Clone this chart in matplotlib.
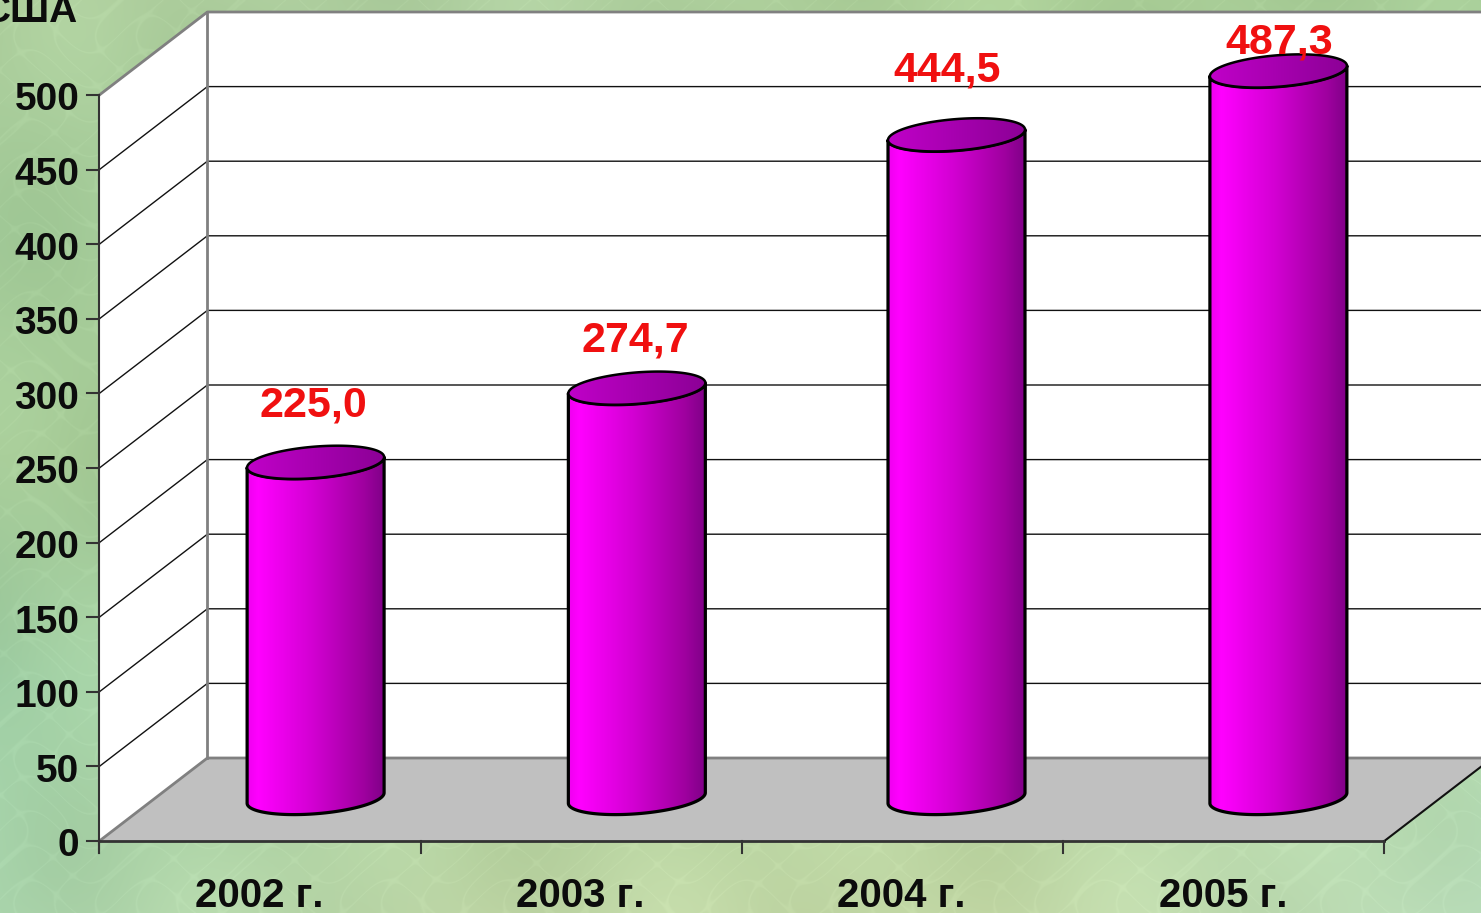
import numpy as np
import matplotlib.pyplot as plt
from matplotlib.colors import LinearSegmentedColormap
from matplotlib.patches import Polygon

plt.rcParams['font.family'] = ['Liberation Sans', 'DejaVu Sans']
plt.rcParams['text.kerning_factor'] = 6

# Data
years = ['2002 г.', '2003 г.', '2004 г.', '2005 г.']
values = [225.0, 274.7, 444.5, 487.3]
value_labels = ['225,0', '274,7', '444,5', '487,3']
y_ticks = list(range(0, 501, 50))
unit_label = 'США'

# label shift above the bar top, in value units, and sideways in categories
label_up = [41, 35, 46, 22]
label_side = [-0.008, -0.005, -0.03, 0.003]

W, H = 1481, 913
X0, XSTEP = 260, 321.25   # pixel of first category, pixels per category
Y0, YSTEP = 841, 1.492    # pixel of value 0, pixels per value unit
DX, DY = 108 / XSTEP, 83 / YSTEP   # depth of the 3d box in data units

fig = plt.figure(figsize=(W / 100, H / 100), dpi=100)
ax = fig.add_axes([0, 0, 1, 1])
ax.axis('off')
xlim = (-X0 / XSTEP, (W - X0) / XSTEP)
ylim = ((Y0 - H) / YSTEP, Y0 / YSTEP)

# Background: colour grid plus a soft crackled texture
bg_rows = np.array([
    [[172, 205, 155], [175, 207, 160], [172, 207, 152], [165, 203, 150]],
    [[165, 205, 155], [170, 207, 155], [170, 210, 155], [170, 210, 160]],
    [[165, 202, 150], [170, 205, 150], [175, 210, 155], [175, 215, 170]],
    [[160, 207, 165], [172, 208, 155], [180, 212, 160], [180, 220, 175]],
    [[170, 213, 172], [190, 214, 165], [194, 216, 165], [186, 222, 186]],
], dtype=float)
yy, xx = np.mgrid[0:H, 0:W]
gx = xx / (W - 1) * 3
gy = yy / (H - 1) * 4
ix = np.clip(gx.astype(int), 0, 2)
iy = np.clip(gy.astype(int), 0, 3)
fx = (gx - ix)[..., None]
fy = (gy - iy)[..., None]
bg = (bg_rows[iy, ix] * (1 - fx) * (1 - fy) + bg_rows[iy, ix + 1] * fx * (1 - fy)
      + bg_rows[iy + 1, ix] * (1 - fx) * fy + bg_rows[iy + 1, ix + 1] * fx * fy)
ridge = np.sin(xx / 13 + 2.1 * np.sin(yy / 23)) * np.sin(yy / 11 + 1.7 * np.sin(xx / 19))
veins = np.exp(-(ridge / 0.07) ** 2)
patches = np.sin(xx / 71 + yy / 53) + np.sin(xx / 37 - yy / 89)
bg = bg + (veins * 6 + patches * 3)[..., None]
ax.imshow(np.clip(bg, 0, 255).astype(np.uint8), extent=(*xlim, *ylim), aspect='auto',
          origin='upper', zorder=0, interpolation='bilinear')

# Walls and floor
vmax = y_ticks[-1]
left, right = -0.5, 3.5
ax.add_patch(Polygon([(left, 0), (left + DX, DY), (left + DX, vmax + DY), (left, vmax)],
                     fc='white', ec='none', zorder=1))
ax.add_patch(Polygon([(left + DX, DY), (xlim[1] + 1, DY), (xlim[1] + 1, vmax + DY), (left + DX, vmax + DY)],
                     fc='white', ec='none', zorder=1))
ax.add_patch(Polygon([(left, 0), (right, 0), (right + DX, DY), (left + DX, DY)],
                     fc='#c0c0c0', ec='none', zorder=1))

# Gridlines on the walls
for v in y_ticks[1:-1]:
    ax.plot([left, left + DX, xlim[1] + 1], [v, v + DY, v + DY], color='#111111', lw=1, zorder=2)
grey = '#808080'
ax.plot([left, left + DX, xlim[1] + 1], [vmax, vmax + DY, vmax + DY], color=grey, lw=2, zorder=2)
ax.plot([left + DX, left + DX], [DY, vmax + DY], color=grey, lw=2, zorder=2)
ax.plot([left, left + DX, xlim[1] + 1], [0, DY, DY], color=grey, lw=2, zorder=2)

# Axis lines and ticks
axc = '#333333'
ax.plot([left, left], [-8, vmax], color=axc, lw=1.5, zorder=3)
ax.plot([left, right], [0, 0], color=axc, lw=2, zorder=3)
ax.plot([right, right + DX], [0, DY], color='#111111', lw=1.5, zorder=3)
for v in y_ticks:
    ax.plot([left - 12 / XSTEP, left], [v, v], color=axc, lw=1.5, zorder=3)
    ax.text(left - 20 / XSTEP, v - 1, str(v), ha='right', va='center_baseline', fontsize=28,
            fontweight='bold', color='#0c0c0c', zorder=5)
for i in range(len(years) + 1):
    ax.plot([left + i, left + i], [-8, 0], color=axc, lw=1.5, zorder=3)
for i, year in enumerate(years):
    ax.text(i - 0.003, -34, year, ha='center', va='center_baseline', fontsize=29,
            fontweight='bold', color='#0c0c0c', zorder=5)

# Cylinders
side_cmap = LinearSegmentedColormap.from_list('side', [(0, '#ee00ee'), (0.08, '#ff00ff'), (0.5, '#d000d0'),
                                                       (0.85, '#a000a0'), (1, '#800088')])
top_cmap = LinearSegmentedColormap.from_list('top', ['#c000c8', '#8c0096'])
ux = 65 / XSTEP           # half width on the floor
vx, vy = 21.6 / XSTEP, 16.6 / YSTEP   # half depth of the ellipse
half_w = np.hypot(ux, vx)
base = DY / 2 + 1
t_edge = np.arctan2(vx, ux)
grad = np.linspace(0, 1, 256)[None, :]
bar_shift = [0.005, 0.005, 0.0, 0.002]

for i, val in enumerate(values):
    cx = i + DX / 2 + bar_shift[i]
    top = base + val
    t = np.linspace(0, 2 * np.pi, 200)
    top_ell = np.column_stack([cx + ux * np.cos(t) + vx * np.sin(t), top + vy * np.sin(t)])
    # lower half of the base ellipse, from right extreme round to left extreme
    t_low = np.linspace(t_edge, t_edge - np.pi, 100)
    low = np.column_stack([cx + ux * np.cos(t_low) + vx * np.sin(t_low), base + vy * np.sin(t_low)])
    t_up = np.linspace(t_edge - np.pi, t_edge, 100)
    up = np.column_stack([cx + ux * np.cos(t_up) + vx * np.sin(t_up), top + vy * np.sin(t_up)])
    body = np.vstack([low, up])

    ext_y = (base - vy - 2, top + vy + 2)
    im = ax.imshow(grad, cmap=side_cmap, extent=(cx - half_w, cx + half_w, *ext_y), aspect='auto', zorder=4)
    patch = Polygon(body, closed=True, fc='none', ec='black', lw=2.3, zorder=4.2, joinstyle='round')
    ax.add_patch(patch)
    im.set_clip_path(patch)

    im2 = ax.imshow(grad, cmap=top_cmap, extent=(cx - half_w, cx + half_w, top - vy - 1, top + vy + 1),
                    aspect='auto', zorder=4.3)
    lid = Polygon(top_ell, closed=True, fc='none', ec='black', lw=1.8, zorder=4.4)
    ax.add_patch(lid)
    im2.set_clip_path(lid)

    ax.text(cx + label_side[i], top + label_up[i], value_labels[i], ha='center', va='center_baseline',
            fontsize=31, fontweight='bold', color='#f01010', zorder=6)

fig.text(78 / W, 1 - 22 / H, unit_label, ha='right', va='baseline', fontsize=28,
         fontweight='bold', color='#0c0c0c')

ax.set_xlim(*xlim)
ax.set_ylim(*ylim)
plt.savefig('out.png', dpi=100)
